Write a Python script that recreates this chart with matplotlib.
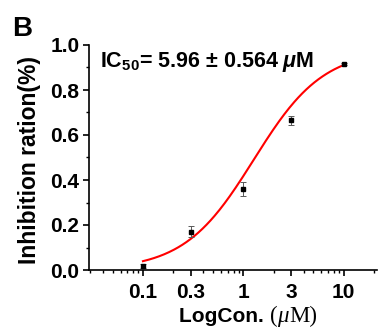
import numpy as np
import matplotlib
matplotlib.use("Agg")
import matplotlib.pyplot as plt
from matplotlib.offsetbox import TextArea, HPacker, AnnotationBbox
from matplotlib.ticker import FixedLocator, NullFormatter

plt.rcParams["font.family"] = ["Liberation Sans", "DejaVu Sans"]
plt.rcParams["mathtext.fontset"] = "custom"
plt.rcParams["mathtext.rm"] = "Liberation Sans:bold"
plt.rcParams["mathtext.it"] = "Liberation Sans:italic:bold"
plt.rcParams["mathtext.bf"] = "Liberation Sans:bold"

# Measured points (concentration in uM)
conc = [0.1, 0.3, 1, 3, 10]
inhibition = [0.018, 0.170, 0.361, 0.665, 0.916]
err = [0.008, 0.024, 0.030, 0.020, 0.005]
tick_vals = [0.1, 0.3, 1, 3, 10]
tick_labels = ["0.1", "0.3", "1", "3", "10"]

# Hill fit parameters
fit_top = 0.98
fit_ec50 = 1.27
fit_n = 1.25

fig = plt.figure(figsize=(3.82, 3.32), dpi=100)
ax = fig.add_axes([89 / 382, 62 / 332, 288 / 382, 225 / 332])

xf = np.logspace(-1, 1, 200)
yf = fit_top / (1 + (fit_ec50 / xf) ** fit_n)
ax.plot(xf, yf, color="red", lw=1.5, zorder=2)

ax.errorbar(conc, inhibition, yerr=err, fmt="s", color="black", ms=3.2,
            ecolor="0.35", elinewidth=0.7, capsize=2.2, capthick=0.7, zorder=3)

ax.set_xscale("log")
ax.set_xlim(0.029, 21.5)
ax.set_ylim(0, 1.0)
ax.xaxis.set_major_locator(FixedLocator(tick_vals))
ax.set_xticklabels(tick_labels)
ax.xaxis.set_minor_formatter(NullFormatter())
ax.set_yticks(np.arange(0, 1.01, 0.2))
ax.set_yticks(np.arange(0.1, 1.0, 0.2), minor=True)
ax.set_yticklabels(["0.0", "0.2", "0.4", "0.6", "0.8", "1.0"])

for s in ["top", "right"]:
    ax.spines[s].set_visible(False)
for s in ["left", "bottom"]:
    ax.spines[s].set_linewidth(1.2)

ax.tick_params(which="major", length=4, width=1.2, labelsize=15, pad=3)
ax.tick_params(which="minor", length=2.5, width=1.0)
ax.tick_params(axis="x", which="major", pad=5)
for lab in ax.get_xticklabels() + ax.get_yticklabels():
    lab.set_fontweight("bold")

ax.set_ylabel("Inhibition ration(%)", fontsize=16.5, fontweight="bold")
ax.yaxis.set_label_coords(-0.165, 0.49)

# x label: bold sans part + serif unit with italic mu
parts = HPacker(children=[
    TextArea("LogCon. ", textprops=dict(fontsize=15, fontweight="bold")),
    TextArea("(", textprops=dict(fontsize=16.5, family="Liberation Serif")),
    TextArea("\u03bc", textprops=dict(fontsize=16.5, family="Liberation Serif", style="italic")),
    TextArea("M)", textprops=dict(fontsize=16.5, family="Liberation Serif")),
], align="baseline", pad=0, sep=0)
ab = AnnotationBbox(parts, (248, 332 - 327), xycoords="figure pixels",
                    box_alignment=(0.5, 0.0), frameon=False, pad=0)
fig.add_artist(ab)

ax.text(100, 265, r"IC$_{50}$= 5.96 ± 0.564 $\mu$M", transform=None,
        fontsize=15.5, fontweight="bold", va="baseline")
fig.text(12 / 382, 1 - 36 / 332, "B", fontsize=20, fontweight="bold", va="baseline")

fig.savefig("out.png", dpi=100)
